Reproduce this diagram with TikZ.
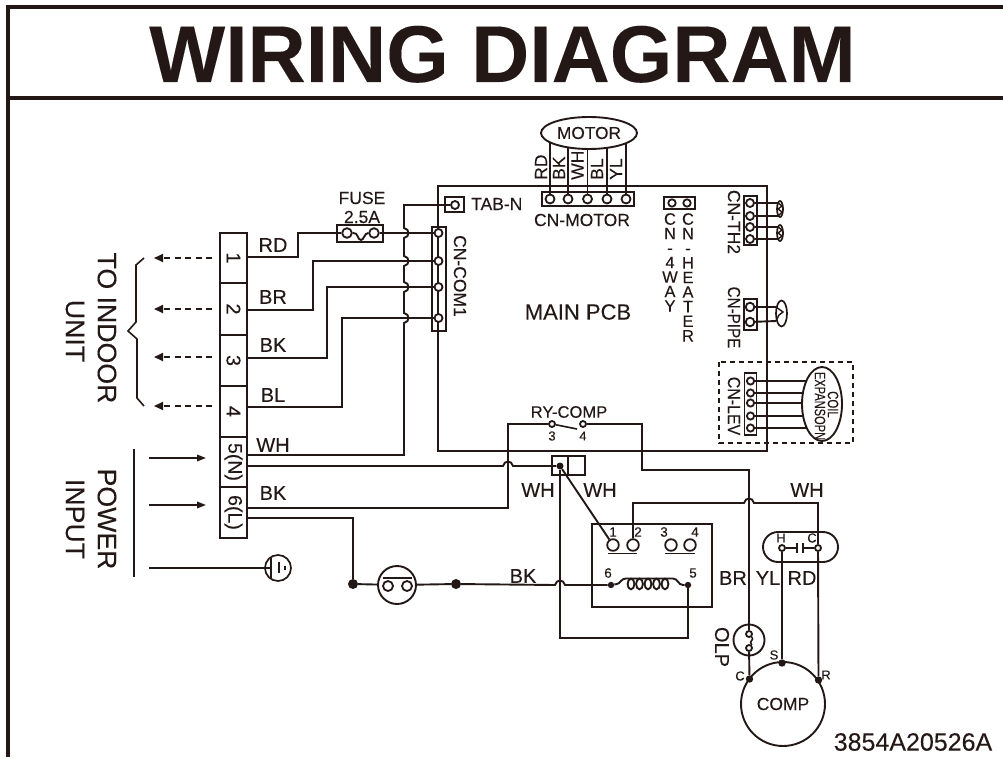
\documentclass[tikz,border=0pt]{standalone}
\usepackage{fontspec}
\usepackage{graphicx}
\setmainfont[FakeBold=0.12]{Liberation Sans}
\usetikzlibrary{arrows.meta,shapes.geometric}
\definecolor{ink}{HTML}{231815}
\newcommand{\vh}[1]{-- (404,#1+5) .. controls +(6,-1) and +(6,1) .. (404,#1-5)}
\newcommand{\hh}[2]{-- (#1-5,#2) .. controls +(1.5,-6) and +(-1.5,-6) .. (#1+5,#2)}
\tikzset{
 fs/.style={font=\fontsize{#1}{#1}\selectfont},
 lab/.style={inner sep=0,fs=#1},
 lab/.default=17.5,
 wlab/.style={inner sep=0,fs=20},
 vlab/.style={inner sep=0,fs=#1,rotate=-90},
 vlab/.default=17.5,
 wire/.style={line width=1.9},
 thin wire/.style={line width=1.6},
 box/.style={rectangle,draw,line width=1.9,inner sep=0},
 cpin/.style={circle,draw,fill=white,inner sep=0,line width=1.8,minimum size=#1*2},
 jdot/.style={circle,fill=ink,inner sep=0,minimum size=#1*2},
 cell/.style={rectangle,draw,line width=1.9,inner sep=0,rotate=-90,minimum height=27,fs=#1},
 stackt/.style={inner sep=0,align=center,anchor=north,font=\fontsize{16.5}{#1}\selectfont},
 farrow/.style={line width=1.8,-{Triangle[length=9pt,width=6.5pt]}},
 darrow/.style={line width=1.9,dash pattern=on 6pt off 4.5pt,-{Triangle[length=9pt,width=8pt]}},
}
\begin{document}
\begin{tikzpicture}[x=1pt,y=-1pt,color=ink]
\useasboundingbox (0,0) rectangle (1003,757);
% frame
\coordinate (ftr) at (1003,7);
\coordinate (ftl) at (8,7);
\coordinate (fbl) at (8,757);
\coordinate (fml) at (8,98);
\coordinate (fmr) at (1003,98);
\draw[line width=3.2] (ftr) -- (ftl) -- (fbl);
\draw[line width=3.2] (fml) -- (fmr);
\node[inner sep=0,anchor=base,font=\fontsize{80.5}{80.5}\selectfont\bfseries] (title) at (502.5,82) {WIRING DIAGRAM};

% terminal block
\node[cell=20,minimum width=50] (t1) at (233.5,258) {1};
\node[cell=20,minimum width=52] (t2) at (233.5,309) {2};
\node[cell=20,minimum width=51] (t3) at (233.5,360.5) {3};
\node[cell=20,minimum width=51] (t4) at (233.5,411.5) {4};
\node[cell=19.5,minimum width=50] (t5) at (233.5,462) {5(N)};
\node[cell=19.5,minimum width=51] (t6) at (233.5,512.5) {6(L)};

% labels left
\node[vlab=26.7] (ti1) at (107,328) {TO INDOOR};
\node[vlab=26.7] (ti2) at (75,331) {UNIT};
\node[vlab=26.7] (pi1) at (107,519) {POWER};
\node[vlab=26.7] (pi2) at (75,519) {INPUT};
\coordinate (a1s) at (212,258); \coordinate (a1e) at (154,258);
\coordinate (a2s) at (212,309); \coordinate (a2e) at (154,309);
\coordinate (a3s) at (212,357); \coordinate (a3e) at (154,357);
\coordinate (a4s) at (212,406); \coordinate (a4e) at (154,406);
\draw[darrow] (a1s) -- (a1e);
\draw[darrow] (a2s) -- (a2e);
\draw[darrow] (a3s) -- (a3e);
\draw[darrow] (a4s) -- (a4e);
\coordinate (pa1s) at (149,458); \coordinate (pa1e) at (206,458);
\coordinate (pa2s) at (149,505); \coordinate (pa2e) at (206,505);
\draw[farrow] (pa1s) -- (pa1e);
\draw[farrow] (pa2s) -- (pa2e);
\coordinate (pbt) at (134,449); \coordinate (pbb) at (134,577);
\draw[thin wire] (pbt) -- (pbb);
\draw[thin wire] (144,258) -- (136,265) -- (136,322) -- (128,331) -- (137,339) -- (137,398) -- (144,406);

% ground
\node[circle,draw,line width=1.7,inner sep=0,minimum size=26] (gnd) at (278,568) {};
\coordinate (gs) at (149,568);
\coordinate (gw) at (271,568);
\draw[wire] (gs) -- (gw);
\draw[thin wire] (271,557.5) -- (271,578.5);
\draw[thin wire] (279,562) -- (279,573);
\draw[thin wire] (285,566) -- (285,569.5);

% PCB
\coordinate (pcbtl) at (438,186);
\coordinate (pcbbr) at (767,451);
\draw[wire] (pcbtl) rectangle (pcbbr);
\node[lab=22] (pcb) at (578,312) {MAIN PCB};

% fuse
\node[lab] (fl1) at (362,198) {FUSE};
\node[lab] (fl2) at (362,217) {2.5A};
\node[box,minimum width=46,minimum height=17] (fb) at (360,233.5) {};
\node[cpin=4.8] (f1) at (347,233) {};
\node[cpin=4.8] (f2) at (374,233) {};
\draw[wire] (f1.east) .. controls +(6,-1) and +(-4,0) .. (361,240) .. controls +(3,0) and +(-4,0) .. (f2.west);

% CN-COM1
\node[box,minimum width=14,minimum height=104] (com) at (439,279) {};
\node[cpin=4] (c1) at (438.5,233) {};
\node[cpin=4] (c2) at (438.5,261) {};
\node[cpin=4] (c3) at (438.5,287) {};
\node[cpin=4] (c4) at (438.5,318) {};
\node[vlab] (coml) at (460,276) {CN-COM1};

% TAB-N
\node[box,minimum width=19,minimum height=15] (tabb) at (454.5,204.5) {};
\node[cpin=4] (tab) at (455,205) {};
\node[lab,anchor=west] (tabl) at (471,204) {TAB-N};

% terminal wires
\coordinate (w1) at (247,257);
\coordinate (w2) at (247,310);
\coordinate (w3) at (247,358);
\coordinate (w4) at (247,407);
\coordinate (w5a) at (247,455);
\coordinate (w5b) at (247,466);
\coordinate (w6a) at (247,508);
\coordinate (w6b) at (247,518);
\draw[wire] (w1) -- (298,257) -- (298,233) -- (f1);
\draw[wire] (f2) -- (c1);
\draw[wire] (w2) -- (313,310) -- (313,261) -- (c2);
\draw[wire] (w3) -- (327,358) -- (327,287) -- (c3);
\draw[wire] (w4) -- (342,407) -- (342,318) -- (c4);
\draw[wire] (w5a) -- (404,455) \vh{318} \vh{287} \vh{261} \vh{233} -- (404,205) -- (tab);

\node[wlab] (lrd) at (273,245) {RD};
\node[wlab] (lbr) at (273,297) {BR};
\node[wlab] (lbk) at (273,345) {BK};
\node[wlab] (lbl) at (273,395) {BL};
\node[wlab] (lwh) at (273,445) {WH};
\node[wlab] (lbk2) at (273,493) {BK};

% motor
\node[ellipse,draw,line width=1.9,inner sep=0,minimum width=96,minimum height=32,fs=17.3] (motor) at (589,133) {MOTOR};
\node[box,minimum width=92,minimum height=14] (cnm) at (588,199) {};
\node[cpin=4.5] (m1) at (550,199) {};
\node[cpin=4.5] (m2) at (568,199) {};
\node[cpin=4.5] (m3) at (587.5,199) {};
\node[cpin=4.5] (m4) at (607,199) {};
\node[cpin=4.5] (m5) at (626,199) {};
\coordinate (me1) at (550,142.3);
\coordinate (me2) at (568,147.4);
\coordinate (me3) at (587.5,149);
\coordinate (me4) at (607,147.8);
\coordinate (me5) at (626,143.2);
\draw[wire] (me1) -- (m1);
\draw[wire] (me2) -- (m2);
\draw[wire] (me3) -- (m3);
\draw[wire] (me4) -- (m4);
\draw[wire] (me5) -- (m5);
\node[inner sep=0,fs=17.5,rotate=90,anchor=west] (mrd) at (541,180) {RD};
\node[inner sep=0,fs=17.5,rotate=90,anchor=west] (mbk) at (559,180) {BK};
\node[inner sep=0,fs=17.5,rotate=90,anchor=west] (mwh) at (577.5,180) {WH};
\node[inner sep=0,fs=17.5,rotate=90,anchor=west] (mbl) at (597,180) {BL};
\node[inner sep=0,fs=17.5,rotate=90,anchor=west] (myl) at (616,180) {YL};
\node[lab] (cnml) at (582,220) {CN-MOTOR};

% CN-4WAY / CN-HEATER
\node[box,minimum width=31,minimum height=12] (hb) at (679.5,203) {};
\node[cpin=3.7] (h1) at (672,203) {};
\node[cpin=3.7] (h2) at (687,203) {};
\node[stackt=14.5] (way) at (670,213) {C\\N\\-\\4\\W\\A\\Y};
\node[stackt=14.6] (heat) at (688,213) {C\\N\\-\\H\\E\\A\\T\\E\\R};

% CN-TH2
\node[box,minimum width=13,minimum height=49] (th) at (750.5,220.5) {};
\node[cpin=4] (th1) at (750,203) {};
\node[cpin=4] (th2) at (750,216) {};
\node[cpin=4] (th3) at (750,227) {};
\node[cpin=4] (th4) at (750,239) {};
\node[ellipse,draw,line width=1.7,inner sep=0,minimum width=6,minimum height=16] (s1) at (780,209) {};
\node[ellipse,draw,line width=1.7,inner sep=0,minimum width=6,minimum height=16] (s2) at (780,233) {};
\coordinate (s1a) at (778,203); \coordinate (s1b) at (778,216);
\coordinate (s2a) at (778,227); \coordinate (s2b) at (778,239);
\draw[wire] (th1) -- (s1a);
\draw[wire] (th2) -- (s1b);
\draw[wire] (th3) -- (s2a);
\draw[wire] (th4) -- (s2b);
\draw[line width=1.4] (778,203) -- (782,206) -- (778,209) -- (782,212) -- (778,216);
\draw[line width=1.4] (778,227) -- (782,230) -- (778,233) -- (782,236) -- (778,239);
\node[vlab] (thl) at (734,222) {CN-TH2};

% CN-PIPE
\node[box,minimum width=13,minimum height=31] (pb) at (750.5,314.5) {};
\node[cpin=4.3] (p1) at (750,307) {};
\node[cpin=4.3] (p2) at (750,322) {};
\node[ellipse,draw,line width=1.7,inner sep=0,minimum width=11,minimum height=26] (ps) at (781.5,313.5) {};
\coordinate (psa) at (776,307); \coordinate (psb) at (776,321);
\draw[wire] (p1) -- (psa);
\draw[wire] (p2) -- (psb);
\draw[line width=1.4] (psa) -- (783,312) -- (779,315) -- (psb);
\node[vlab] (pl) at (734,317.5) {\scalebox{.87}[1]{CN-PIPE}};

% CN-LEV
\coordinate (dl) at (719,362);
\coordinate (dr) at (853,443);
\draw[line width=1.9,dash pattern=on 5pt off 4pt] (dl) rectangle (dr);
\node[box,minimum width=12,minimum height=62] (lb) at (750.5,404) {};
\node[cpin=3.6] (l1) at (750.5,381) {};
\node[cpin=3.6] (l2) at (750.5,393) {};
\node[cpin=3.6] (l3) at (750.5,403) {};
\node[cpin=3.6] (l4) at (750.5,416) {};
\node[cpin=3.6] (l5) at (750.5,428) {};
\node[ellipse,draw,line width=1.9,inner sep=0,minimum width=40,minimum height=74] (coil) at (822,404) {};
\coordinate (le1) at (806.3,381);
\coordinate (le2) at (802.9,393);
\coordinate (le3) at (802,403);
\coordinate (le4) at (803.1,416);
\coordinate (le5) at (806.8,428);
\draw[wire] (l1) -- (le1);
\draw[wire] (l2) -- (le2);
\draw[wire] (l3) -- (le3);
\draw[wire] (l4) -- (le4);
\draw[wire] (l5) -- (le5);
\node[vlab] (levl) at (734,406) {\scalebox{.91}[1]{CN-LEV}};
\node[vlab=15] (coil1) at (833,404.5) {\scalebox{.76}[1]{COIL}};
\node[vlab=15] (coil2) at (820,406) {\scalebox{.74}[1]{EXPANSOPN}};

% relay
\node[lab=16.6] (ryl) at (569,412) {RY-COMP};
\node[cpin=3] (r3) at (552,424) {};
\node[cpin=3] (r4) at (583,424) {};
\coordinate (rsw) at (577,429);
\draw[thin wire] (r3) -- (rsw);
\node[lab=13] (r3l) at (552,436) {3};
\node[lab=13] (r4l) at (583,436) {4};

% small box
\node[box,minimum width=33,minimum height=19] (tb) at (568.5,465.5) {};
\coordinate (tbt) at (568,456); \coordinate (tbb) at (568,475);
\draw[wire] (tbt) -- (tbb);
\node[jdot=3.5] (d0) at (560,466) {};

\node[wlab] (wh1) at (538,490) {WH};
\node[wlab] (wh2) at (600,490) {WH};
\node[wlab] (wh3) at (807,490) {WH};

% contactor
\node[box,minimum width=120,minimum height=83] (ct) at (652,565.5) {};
\node[cpin=5.8] (k1) at (613,545) {};
\node[cpin=5.8] (k2) at (633,545) {};
\node[cpin=5.8] (k3) at (671,545) {};
\node[cpin=5.8] (k4) at (690,545) {};
\coordinate (b1a) at (608,553.5); \coordinate (b1b) at (637,553.5);
\coordinate (b2a) at (665,553.5); \coordinate (b2b) at (695,553.5);
\draw[wire] (b1a) -- (b1b);
\draw[wire] (b2a) -- (b2b);
\node[lab=13.5] (k1l) at (613,532) {1};
\node[lab=13.5] (k2l) at (638,532) {2};
\node[lab=13.5] (k3l) at (664,532) {3};
\node[lab=13.5] (k4l) at (695,532) {4};
\node[lab=13.5] (k6l) at (608,573) {6};
\node[lab=13.5] (k5l) at (693,573) {5};
\node[jdot=3.2] (d6) at (611,585) {};
\node[jdot=3.2] (d5) at (688,585) {};
\draw[wire] (d6) -- (617,584) .. controls (621,583) and (621,578.5) .. (626,578.5) -- (673,578.5) .. controls (678,578.5) and (678,585) .. (683,585) -- (d5);
\foreach \cx in {631,639.5,648,656.5,665} {
  \draw[wire] (\cx,584) ellipse [x radius=3.4, y radius=5.3];
}

% main feed
\node[jdot=5] (da) at (353,584) {};
\node[jdot=5] (db) at (456,584) {};
\node[circle,draw,line width=1.9,inner sep=0,minimum size=38] (tp) at (397,585) {};
\node[cpin=5] (tp1) at (388,586) {};
\node[cpin=5] (tp2) at (407,586) {};
\coordinate (tpa) at (383,578); \coordinate (tpb) at (412,578);
\draw[wire] (tpa) -- (tpb);
\draw[wire] (w6b) -- (353,518) -- (da);
\draw[wire] (da) -- (tp);
\draw[wire] (tp) -- (db);
\draw[wire] (db) \hh{560}{585} -- (d6);
\node[wlab] (bk3) at (523,576) {BK};

% wires through the middle
\draw[wire] (w5b) \hh{508}{466} -- (d0);
\draw[wire] (w6a) -- (508,508) -- (508,424) -- (r3);
\draw[wire] (d0) -- (560,638) -- (688,638) -- (d5);
\draw[wire] (d0) -- (k1);

% capacitor
\node[rectangle,rounded corners=15,draw,line width=1.9,inner sep=0,minimum width=75,minimum height=30] (cap) at (800.5,547) {};
\node[cpin=3] (ch) at (782,548) {};
\node[cpin=3] (cc) at (818,548) {};
\coordinate (pl1t) at (797,543); \coordinate (pl1b) at (797,553); \coordinate (pl1m) at (797,548);
\coordinate (pl2t) at (803,543); \coordinate (pl2b) at (803,553); \coordinate (pl2m) at (803,548);
\draw[wire] (ch) -- (pl1m);
\draw[wire] (cc) -- (pl2m);
\draw[wire] (pl1t) -- (pl1b);
\draw[wire] (pl2t) -- (pl2b);
\node[lab=13] (chl) at (781,538) {H};
\node[lab=13] (ccl) at (812,538) {C};
\node[wlab] (br2) at (733,578) {BR};
\node[wlab] (yl2) at (768,578) {YL};
\node[wlab] (rd2) at (802,578) {RD};

% compressor
\node[circle,draw,line width=1.9,inner sep=0,minimum size=84,fs=17.5] (comp) at (783,704) {COMP};
\node[jdot=3.7] (ds) at (782,663) {};
\node[jdot=3.7] (dc) at (749.5,679) {};
\node[jdot=3.7] (dr2) at (818.5,680) {};
\node[lab=13] (sl) at (774,655) {S};
\node[lab=13] (cl) at (740,676) {C};
\node[lab=13] (rl) at (826,675) {R};

% OLP
\node[circle,draw,line width=1.9,inner sep=0,minimum size=31] (olp) at (749,640) {};
\node[cpin=3] (o1) at (749,634) {};
\node[cpin=3] (o2) at (749,648) {};
\draw[thin wire] (o1.south east) .. controls (755,641) and (748,640) .. (o2.north east);
\node[vlab=20] (olpl) at (722,647) {OLP};

\draw[wire] (o2) -- (dc);
\draw[wire] (r4) -- (642,424) -- (642,470) -- (749,470) -- (o1);
\draw[wire] (k2) -- (633,503) \hh{749}{503} -- (818,503) -- (cc);
\draw[wire] (cc) -- (dr2);
\draw[wire] (ch) -- (ds);

\node[lab=25] (code) at (913,742) {3854A20526A};
\end{tikzpicture}
\end{document}
